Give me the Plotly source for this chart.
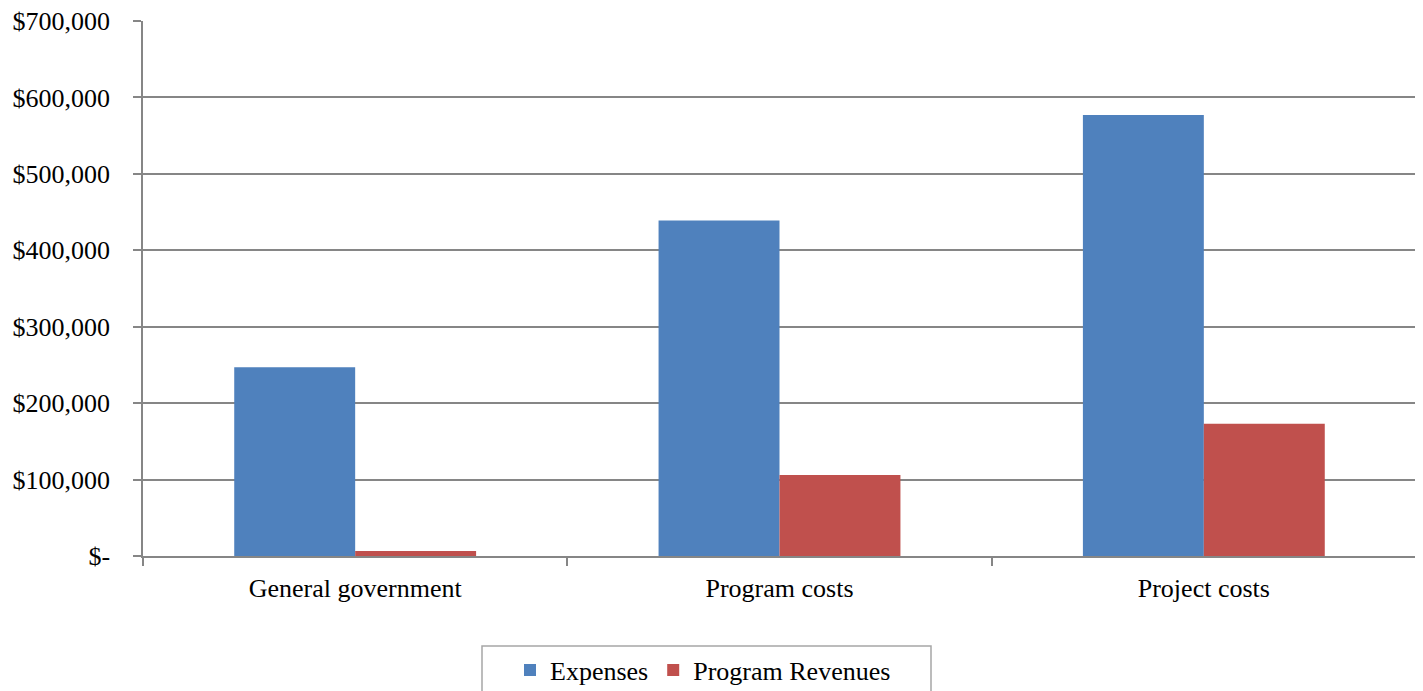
import plotly.graph_objects as go

categories = ["General government", "Program costs", "Project costs"]
expenses = [247000, 439000, 577000]
program_revenues = [6500, 106000, 173000]
tick_vals = [0, 100000, 200000, 300000, 400000, 500000, 600000, 700000]
tick_text = ["$-", "$100,000", "$200,000", "$300,000", "$400,000", "$500,000", "$600,000", "$700,000"]

# page body has an 8px margin, so the figure is drawn offset by (8, 8)
OFF = 8
W, H = 1423 - OFF, 691 - OFF
L, T = 143 - OFF, 21 - OFF
pw, ph = 1273, 535
R = W - L - pw
B = H - T - ph
base = T + ph  # plot bottom in figure pixels


def px_x(x_screen):
    return (x_screen - OFF - L) / pw


def px_y(y_screen):
    return -(y_screen - OFF - base) / ph


fig = go.Figure()
fig.add_trace(go.Bar(name="Expenses", x=categories, y=expenses,
                     marker=dict(color="#4F81BD", line=dict(width=0))))
fig.add_trace(go.Bar(name="Program Revenues", x=categories, y=program_revenues,
                     marker=dict(color="#C0504D", line=dict(width=0))))

font = dict(family="Liberation Serif, Times New Roman, serif", size=26, color="#000000")

fig.update_layout(
    width=W, height=H,
    margin=dict(l=L, r=R, t=T, b=B, autoexpand=False),
    paper_bgcolor="white", plot_bgcolor="white",
    barmode="group", bargap=0.43, bargroupgap=0,
    font=font,
    showlegend=True,
    legend=dict(orientation="h", x=px_x(510), xanchor="left",
                y=px_y(670), yanchor="middle",
                bgcolor="rgba(0,0,0,0)", borderwidth=0, font=font,
                itemsizing="constant"),
    xaxis=dict(showline=True, linecolor="#868686", linewidth=1.5,
               ticks="outside", ticklen=8, tickcolor="#868686", tickwidth=1.5,
               tickson="boundaries", showgrid=False, tickfont=font,
               ticklabelstandoff=8, automargin=False),
    yaxis=dict(range=[0, 700000], tickvals=tick_vals, ticktext=tick_text,
               showline=True, linecolor="#868686", linewidth=1.5, mirror=True,
               ticks="outside", ticklen=8, tickcolor="#868686", tickwidth=1.5,
               showgrid=True, gridcolor="#868686", gridwidth=1.5,
               zeroline=False, tickfont=font, ticklabelstandoff=18,
               ticklabeloverflow="allow", automargin=False),
    shapes=[dict(type="rect", xref="paper", yref="paper",
                 x0=px_x(482), x1=px_x(931),
                 y0=px_y(700), y1=px_y(646),
                 line=dict(color="#A6A6A6", width=1.5), fillcolor="rgba(0,0,0,0)",
                 layer="below")],
)

fig.write_html("out.html")
